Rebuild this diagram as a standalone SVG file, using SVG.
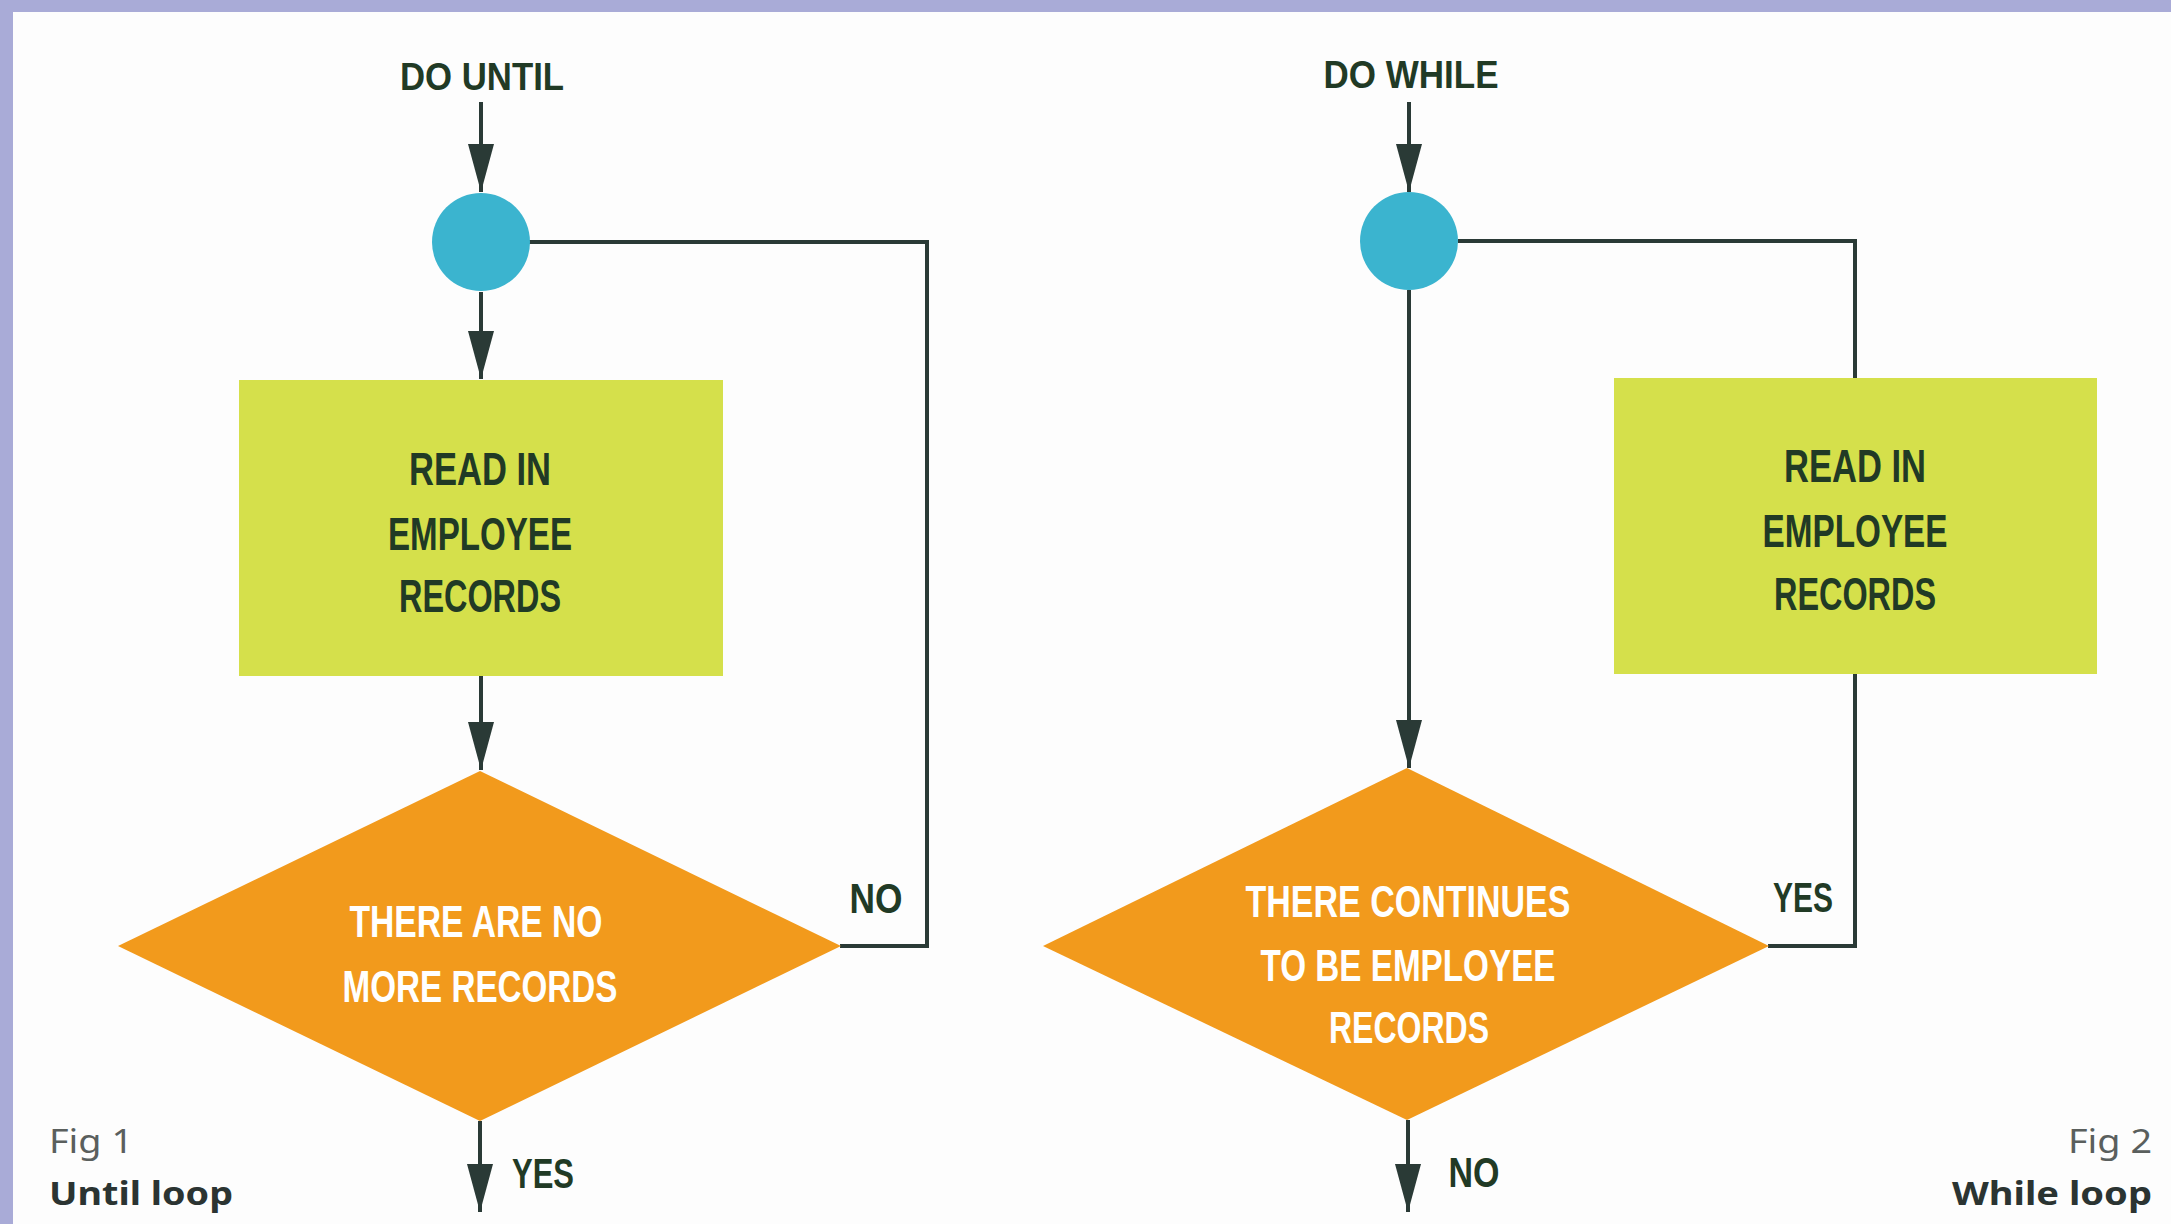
<svg xmlns="http://www.w3.org/2000/svg" width="2171" height="1224" viewBox="0 0 2171 1224">
  <style>
    .lbl { font-family: "Liberation Sans", Arial, sans-serif; font-weight: bold; text-anchor: middle; }
    .dark { fill: #213a25; }
    .white { fill: #ffffff; }
    .cap { font-family: "Noto Sans", "Open Sans", sans-serif; font-size: 32px; }
    .conn { fill: none; stroke: #2a3a36; stroke-width: 4; }
    .circ { fill: #3bb4cf; }
    .box { fill: #d5e04b; }
    .dia { fill: #f29a1c; }
  </style>
  <defs>
    <marker id="arr" viewBox="0 0 48 26" refX="48" refY="13" markerWidth="48" markerHeight="26" markerUnits="userSpaceOnUse" orient="auto">
      <path d="M0,0 L48,13 L0,26 Z" fill="#2a3a36"/>
    </marker>
  </defs>

  <rect x="0" y="0" width="2171" height="1224" fill="#a9abd7"/>
  <rect x="13" y="12" width="2158" height="1212" fill="#fdfdfd"/>

  <g id="connectors">
    <line class="conn" x1="481" y1="102" x2="481" y2="192" marker-end="url(#arr)"/>
    <line class="conn" x1="481" y1="292" x2="481" y2="379" marker-end="url(#arr)"/>
    <line class="conn" x1="481" y1="676" x2="481" y2="770" marker-end="url(#arr)"/>
    <line class="conn" x1="480" y1="1121" x2="480" y2="1212" marker-end="url(#arr)"/>
    <polyline class="conn" points="529,242 927,242 927,946 840,946"/>
    <line class="conn" x1="1409" y1="102" x2="1409" y2="192" marker-end="url(#arr)"/>
    <line class="conn" x1="1409" y1="290" x2="1409" y2="768" marker-end="url(#arr)"/>
    <line class="conn" x1="1408" y1="1120" x2="1408" y2="1212" marker-end="url(#arr)"/>
    <polyline class="conn" points="1458,241 1855,241 1855,378"/>
    <polyline class="conn" points="1855,674 1855,946 1768,946"/>
  </g>

  <g id="do-until">
    <text class="lbl dark" x="482" y="90" font-size="39" textLength="164" lengthAdjust="spacingAndGlyphs">DO UNTIL</text>
  </g>
  <g id="junction-1">
    <circle class="circ" cx="481" cy="242" r="49"/>
  </g>
  <g id="read-1">
    <rect class="box" x="239" y="380" width="484" height="296"/>
    <text class="lbl dark" x="480" y="485" font-size="46" textLength="142" lengthAdjust="spacingAndGlyphs">READ IN</text>
    <text class="lbl dark" x="480" y="550" font-size="46" textLength="184" lengthAdjust="spacingAndGlyphs">EMPLOYEE</text>
    <text class="lbl dark" x="480" y="612" font-size="46" textLength="162" lengthAdjust="spacingAndGlyphs">RECORDS</text>
  </g>
  <g id="decision-1">
    <polygon class="dia" points="480,771 841,946 480,1121 118,946"/>
    <text class="lbl white" x="476" y="937" font-size="44" textLength="253" lengthAdjust="spacingAndGlyphs">THERE ARE NO</text>
    <text class="lbl white" x="480" y="1002" font-size="44" textLength="275" lengthAdjust="spacingAndGlyphs">MORE RECORDS</text>
  </g>
  <g id="labels-1">
    <text class="lbl dark" x="876" y="913" font-size="42" textLength="53" lengthAdjust="spacingAndGlyphs">NO</text>
    <text class="lbl dark" x="543" y="1188" font-size="42" textLength="62" lengthAdjust="spacingAndGlyphs">YES</text>
    <text class="cap" x="49" y="1153" fill="#5a5f5d" textLength="84" lengthAdjust="spacingAndGlyphs">Fig 1</text>
    <text class="cap" x="49" y="1205" fill="#2b3432" font-weight="bold" textLength="184" lengthAdjust="spacingAndGlyphs">Until loop</text>
  </g>

  <g id="do-while">
    <text class="lbl dark" x="1411" y="88" font-size="39" textLength="175" lengthAdjust="spacingAndGlyphs">DO WHILE</text>
  </g>
  <g id="junction-2">
    <circle class="circ" cx="1409" cy="241" r="49"/>
  </g>
  <g id="read-2">
    <rect class="box" x="1614" y="378" width="483" height="296"/>
    <text class="lbl dark" x="1855" y="482" font-size="46" textLength="142" lengthAdjust="spacingAndGlyphs">READ IN</text>
    <text class="lbl dark" x="1855" y="547" font-size="46" textLength="185" lengthAdjust="spacingAndGlyphs">EMPLOYEE</text>
    <text class="lbl dark" x="1855" y="610" font-size="46" textLength="162" lengthAdjust="spacingAndGlyphs">RECORDS</text>
  </g>
  <g id="decision-2">
    <polygon class="dia" points="1407,768 1769,946 1407,1120 1043,946"/>
    <text class="lbl white" x="1408" y="917" font-size="44" textLength="325" lengthAdjust="spacingAndGlyphs">THERE CONTINUES</text>
    <text class="lbl white" x="1408" y="981" font-size="44" textLength="295" lengthAdjust="spacingAndGlyphs">TO BE EMPLOYEE</text>
    <text class="lbl white" x="1409" y="1043" font-size="44" textLength="160" lengthAdjust="spacingAndGlyphs">RECORDS</text>
  </g>
  <g id="labels-2">
    <text class="lbl dark" x="1803" y="912" font-size="42" textLength="60" lengthAdjust="spacingAndGlyphs">YES</text>
    <text class="lbl dark" x="1474" y="1187" font-size="42" textLength="51" lengthAdjust="spacingAndGlyphs">NO</text>
    <text class="cap" x="2152" y="1153" fill="#5a5f5d" text-anchor="end" textLength="84" lengthAdjust="spacingAndGlyphs">Fig 2</text>
    <text class="cap" x="2152" y="1205" fill="#2b3432" font-weight="bold" text-anchor="end" textLength="200" lengthAdjust="spacingAndGlyphs">While loop</text>
  </g>
</svg>
